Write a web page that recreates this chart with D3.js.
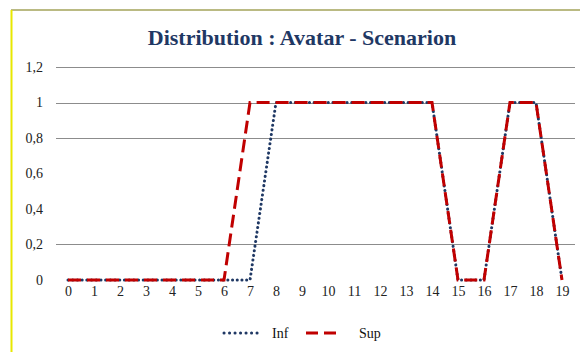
<!DOCTYPE html>
<html lang="en">
<head>
    <meta charset="UTF-8">
    <title>Distribution : Avatar - Scenarion</title>
    <script src="https://d3js.org/d3.v7.min.js"></script>
    <style>
        body { margin: 0; background: #fff; }
        svg text { font-family: 'Times New Roman', 'Liberation Serif', Times, 'DejaVu Serif', serif !important; }
    </style>
</head>
<body>
<script>
    // data
    var xValues = d3.range(0, 20);
    var infValues = [0, 0, 0, 0, 0, 0, 0, 0, 1, 1, 1, 1, 1, 1, 1, 0, 0, 1, 1, 0];
    var supValues = [0, 0, 0, 0, 0, 0, 0, 1, 1, 1, 1, 1, 1, 1, 1, 0, 0, 1, 1, 0];
    var yTicks = [0, 0.2, 0.4, 0.6, 0.8, 1, 1.2];
    var yTickLabels = ["0", "0,2", "0,4", "0,6", "0,8", "1", "1,2"];
    var gridValues = [0.2, 0.8, 1, 1.2];
    var seriesNames = ["Inf", "Sup"];

    var W = 580, H = 352;

    var svg = d3.select("body").append("svg")
        .attr("width", W)
        .attr("height", H);

    // frame
    svg.append("line")
        .attr("x1", 11).attr("x2", W)
        .attr("y1", 10).attr("y2", 10)
        .attr("stroke", "#a3a35a").attr("stroke-width", 1.5);
    svg.append("line")
        .attr("x1", 11.5).attr("x2", 11.5)
        .attr("y1", 10).attr("y2", H)
        .attr("stroke", "#e8e800").attr("stroke-width", 2);

    var x = d3.scalePoint()
        .domain(xValues)
        .range([68, 562]);

    var y = d3.scaleLinear()
        .domain([0, 1.2])
        .range([280, 67]);

    // title
    svg.append("text")
        .attr("x", 302)
        .attr("y", 45)
        .attr("text-anchor", "middle")
        .style("font-size", "22px")
        .style("font-weight", "bold")
        .attr("fill", "#1f3864")
        .text("Distribution : Avatar - Scenarion");

    // grid
    svg.selectAll("line.grid")
        .data(gridValues)
        .enter()
        .append("line")
        .attr("class", "grid")
        .attr("x1", 56).attr("x2", 575)
        .attr("y1", function(d) { return Math.round(y(d)) + 0.5; })
        .attr("y2", function(d) { return Math.round(y(d)) + 0.5; })
        .attr("stroke", "#8c8c8c");

    // y axis labels
    var yAxis = d3.axisLeft(y)
        .tickValues(yTicks)
        .tickSize(0)
        .tickPadding(0)
        .tickFormat(function(d, i) { return yTickLabels[i]; });
    var gy = svg.append("g")
        .attr("transform", "translate(43,0)")
        .call(yAxis);
    gy.attr("font-family", null);
    gy.select(".domain").remove();
    gy.selectAll("text")
        .style("font-size", "14px")
        .attr("fill", "#222");

    // x axis labels
    var xAxis = d3.axisBottom(x)
        .tickSize(0)
        .tickPadding(0);
    var gx = svg.append("g")
        .attr("transform", "translate(0,286)")
        .call(xAxis);
    gx.attr("font-family", null);
    gx.select(".domain").remove();
    gx.selectAll("text")
        .style("font-size", "14px")
        .attr("fill", "#222");

    var line = d3.line()
        .x(function(d, i) { return x(xValues[i]); })
        .y(function(d) { return y(d); });

    // Inf (dotted navy)
    svg.append("path")
        .datum(infValues)
        .attr("d", line)
        .attr("fill", "none")
        .attr("stroke", "#1f3864")
        .attr("stroke-width", 3)
        .attr("stroke-linecap", "round")
        .attr("stroke-dasharray", "0.1 4.6");

    // Sup (dashed red)
    svg.append("path")
        .datum(supValues)
        .attr("d", line)
        .attr("fill", "none")
        .attr("stroke", "#c00000")
        .attr("stroke-width", 3)
        .attr("stroke-dasharray", "13 6");

    // legend
    var legend = svg.append("g");
    legend.append("line")
        .attr("x1", 224).attr("x2", 262)
        .attr("y1", 333).attr("y2", 333)
        .attr("stroke", "#1f3864")
        .attr("stroke-width", 3)
        .attr("stroke-linecap", "round")
        .attr("stroke-dasharray", "0.1 5.4");
    legend.append("text")
        .attr("x", 272).attr("y", 337.5)
        .style("font-size", "14px")
        .attr("fill", "#111")
        .text(seriesNames[0]);
    legend.append("line")
        .attr("x1", 306).attr("x2", 338)
        .attr("y1", 333).attr("y2", 333)
        .attr("stroke", "#c00000")
        .attr("stroke-width", 3)
        .attr("stroke-dasharray", "12 6");
    legend.append("text")
        .attr("x", 359).attr("y", 337.5)
        .style("font-size", "14px")
        .attr("fill", "#111")
        .text(seriesNames[1]);
</script>
</body>
</html>
